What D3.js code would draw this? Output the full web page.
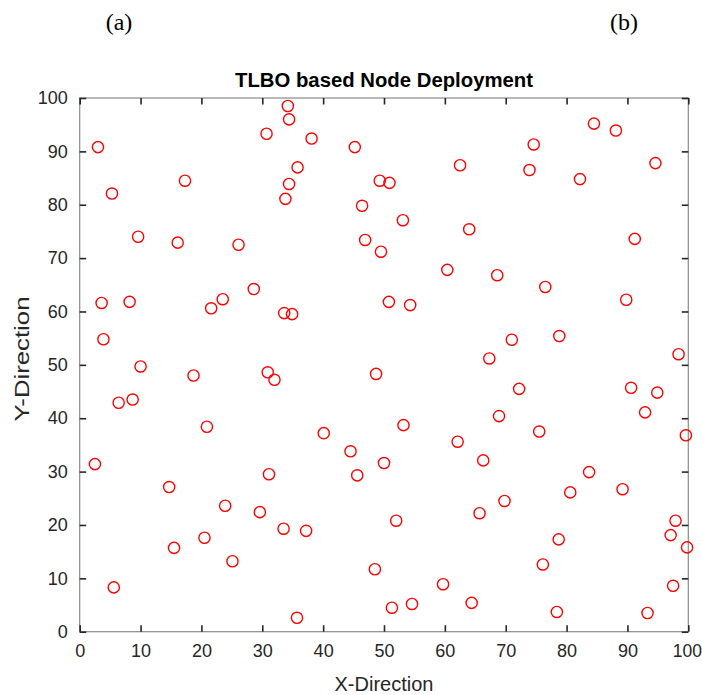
<!DOCTYPE html>
<html><head><meta charset="utf-8">
<script src="https://cdn.jsdelivr.net/npm/d3@7"></script>
<style>html,body{margin:0;padding:0;background:#fff;}</style>
</head><body>
<svg id="chart" width="702" height="695"></svg>
<script>
const xValues = [3.0,5.3,9.6,16.1,17.3,26.1,30.7,28.6,34.2,34.4,38.1,35.8,34.4,33.8,45.2,46.4,49.3,50.9,53.1,46.9,49.5,62.5,64.0,60.4,68.6,84.5,88.1,74.6,73.9,82.2,94.6,91.2,76.5,3.6,8.2,3.9,10.0,6.4,8.7,2.5,21.6,23.5,33.6,34.9,18.7,30.9,32.0,20.9,31.1,50.8,54.3,67.3,48.7,53.2,40.1,44.5,50.0,45.6,62.1,66.3,68.9,89.8,71.0,78.8,98.4,72.2,90.6,94.9,92.9,75.5,99.6,83.7,14.7,23.9,29.6,33.5,20.5,15.5,25.1,5.6,52.0,65.7,37.2,48.5,59.7,51.3,54.6,64.4,35.7,69.8,80.6,89.2,97.9,97.1,99.8,78.7,76.1,97.5,78.4,93.3];
const yValues = [90.8,82.1,74.0,72.9,84.5,72.5,93.3,64.2,98.5,96.0,92.4,87.0,83.9,81.1,90.8,79.8,84.5,84.1,77.1,73.4,71.2,87.4,75.4,67.8,66.8,95.2,93.9,91.3,86.5,84.8,87.8,73.6,64.6,61.6,61.8,54.8,49.7,42.9,43.5,31.4,60.6,62.3,59.7,59.5,48.0,48.6,47.2,38.4,29.5,61.8,61.2,51.2,48.3,38.7,37.2,33.8,31.6,29.3,35.6,32.1,40.4,62.2,54.7,55.4,52.0,45.5,45.7,44.8,41.1,37.5,36.8,29.9,27.1,23.6,22.4,19.3,17.6,15.7,13.2,8.3,20.8,22.2,18.9,11.7,8.9,4.5,5.2,5.4,2.6,24.5,26.1,26.7,20.8,18.1,15.8,17.3,12.6,8.6,3.7,3.5];
const xTicks = [0,10,20,30,40,50,60,70,80,90,100];
const yTicks = [0,10,20,30,40,50,60,70,80,90,100];
const titleText = "TLBO based Node Deployment";
const xLabel = "X-Direction";
const yLabel = "Y-Direction";

const points = xValues.map((x,i)=>({x, y: yValues[i]}));
const svg = d3.select("#chart");
const L = 79.7, R = 688.3, T = 98, B = 631.7;
const x = d3.scaleLinear().domain([0,100]).range([L,R]);
const y = d3.scaleLinear().domain([0,100]).range([B,T]);
const font = "'Liberation Sans', Arial, Helvetica, sans-serif";
const txt = "#262626";
const tickLen = 6.5;

// panel labels
svg.append("text").attr("x",119).attr("y",30).attr("text-anchor","middle")
  .attr("font-family","'Liberation Serif','Times New Roman',serif").attr("font-size",24).attr("fill","#000").text("(a)");
svg.append("text").attr("x",624).attr("y",30).attr("text-anchor","middle")
  .attr("font-family","'Liberation Serif','Times New Roman',serif").attr("font-size",24).attr("fill","#000").text("(b)");

// title
svg.append("text").attr("x",(L+R)/2).attr("y",86.5).attr("text-anchor","middle")
  .attr("font-family",font).attr("font-weight","bold").attr("font-size",20)
  .attr("textLength",298).attr("lengthAdjust","spacingAndGlyphs")
  .attr("fill","#000").text(titleText);

// box
svg.append("rect").attr("x",L).attr("y",T).attr("width",R-L).attr("height",B-T)
  .attr("fill","none").attr("stroke","#8a8a8a").attr("stroke-width",1.2);

// axes via d3
const xAxisB = d3.axisBottom(x).tickValues(xTicks).tickSize(-tickLen).tickPadding(13).tickFormat(d3.format("d"));
const xAxisT = d3.axisTop(x).tickValues(xTicks).tickSize(-tickLen).tickFormat("");
const yAxisL = d3.axisLeft(y).tickValues(yTicks).tickSize(-tickLen).tickPadding(12).tickFormat(d3.format("d"));
const yAxisR = d3.axisRight(y).tickValues(yTicks).tickSize(-tickLen).tickFormat("");

function style(g){
  g.select(".domain").remove();
  g.selectAll(".tick line").attr("stroke",txt).attr("stroke-width",1.6);
  g.selectAll(".tick text").attr("font-family",font).attr("font-size",18).attr("fill",txt);
}
const gxb = svg.append("g").attr("transform",`translate(0,${B})`).call(xAxisB).call(style);
gxb.selectAll(".tick text").filter(d=>d===100).attr("x",-1.5).attr("font-size",17.5);
svg.append("g").attr("transform",`translate(0,${T})`).call(xAxisT).call(style);
svg.append("g").attr("transform",`translate(${L},0)`).call(yAxisL).call(style);
svg.append("g").attr("transform",`translate(${R},0)`).call(yAxisR).call(style);

// axis labels
svg.append("text").attr("x",(L+R)/2).attr("y",691).attr("text-anchor","middle")
  .attr("font-family",font).attr("font-size",20).attr("fill",txt).text(xLabel);
svg.append("text").attr("transform","translate(29,359) rotate(-90)").attr("text-anchor","middle")
  .attr("font-family",font).attr("font-size",20).attr("fill",txt)
  .attr("textLength",125).attr("lengthAdjust","spacingAndGlyphs").text(yLabel);

// points
svg.append("g").selectAll("circle").data(points).join("circle")
  .attr("cx",d=>x(d.x)).attr("cy",d=>y(d.y)).attr("r",5.6)
  .attr("fill","none").attr("stroke","#ff0000").attr("stroke-width",1.4);
</script>
</body></html>
